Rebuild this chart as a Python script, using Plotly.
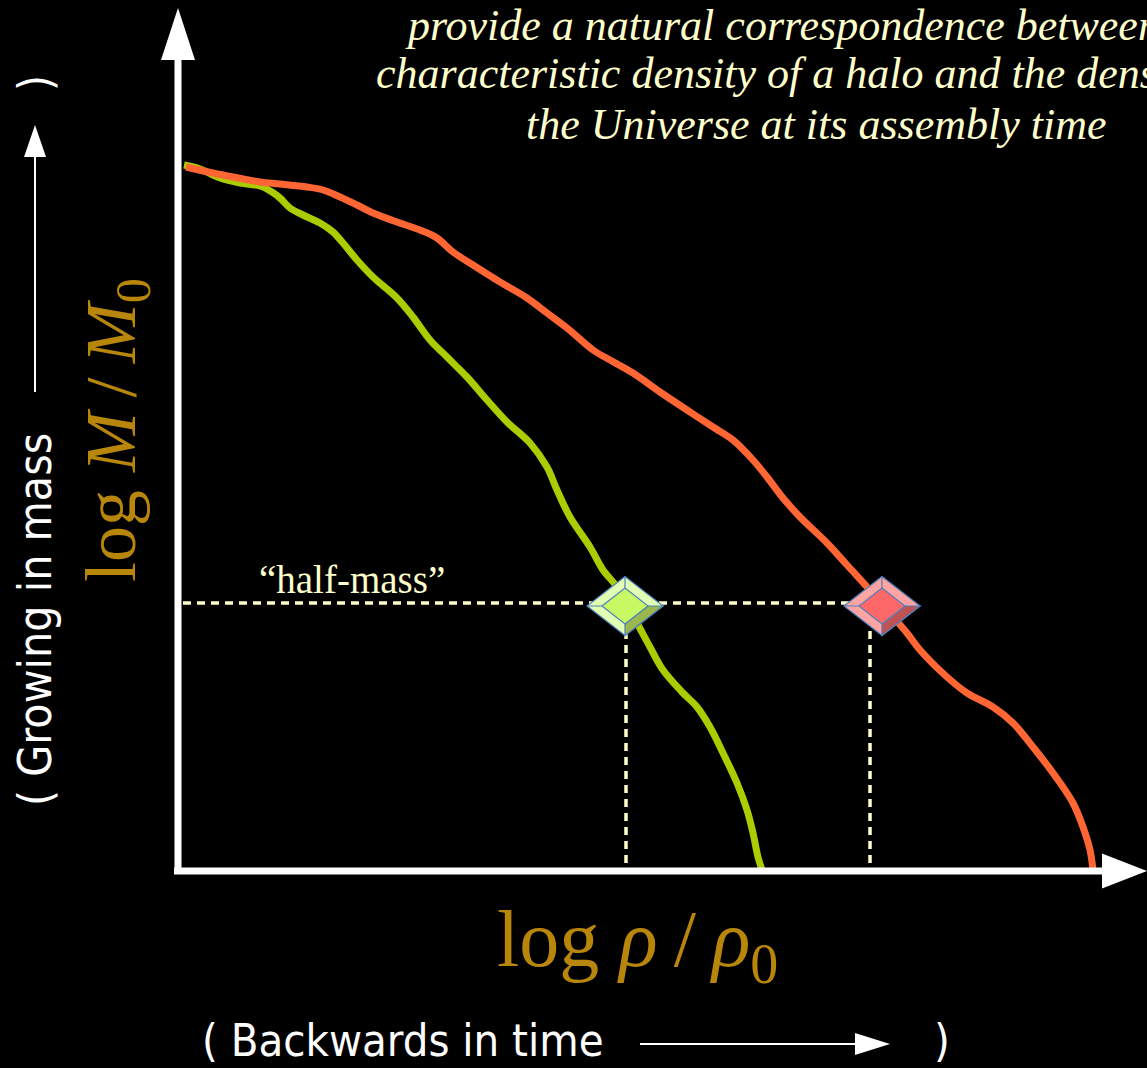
import plotly.graph_objects as go

# --- halo mass-assembly histories: log rho/rho0 (x) vs log M/M0 (y) ---
green_rho = [0.06, 0.22, 0.42, 0.62, 0.82, 0.94, 1.02, 1.12, 1.25, 1.42, 1.55, 1.65, 1.79, 1.95,
             2.19, 2.35, 2.52, 2.69, 2.89, 3.09, 3.29, 3.52, 3.69, 3.79, 3.92, 4.12, 4.25, 4.39,
             4.59, 4.72, 4.85, 5.05, 5.19, 5.32, 5.45, 5.59, 5.69, 5.75, 5.80, 5.84]
green_mass = [7.06, 7.02, 6.93, 6.88, 6.85, 6.79, 6.73, 6.63, 6.56, 6.48, 6.39, 6.28, 6.11, 5.94,
              5.73, 5.54, 5.31, 5.14, 4.94, 4.71, 4.49, 4.28, 4.04, 3.81, 3.54, 3.24, 3.01, 2.84,
              2.48, 2.24, 2.01, 1.78, 1.64, 1.44, 1.18, 0.88, 0.61, 0.38, 0.14, 0.01]

red_rho = [0.08, 0.35, 0.55, 0.82, 1.02, 1.29, 1.45, 1.62, 1.79, 1.95, 2.19, 2.42, 2.59, 2.75,
           2.95, 3.22, 3.49, 3.69, 3.89, 4.15, 4.32, 4.55, 4.82, 5.09, 5.35, 5.55, 5.75, 5.89,
           6.05, 6.22, 6.49, 6.69, 6.89, 7.09, 7.29, 7.42, 7.69, 7.89, 8.15, 8.35, 8.55, 8.75,
           8.95, 9.05, 9.12, 9.15]
red_mass = [7.04, 6.98, 6.94, 6.89, 6.87, 6.84, 6.81, 6.74, 6.66, 6.58, 6.49, 6.41, 6.33, 6.19,
            6.06, 5.89, 5.73, 5.58, 5.43, 5.21, 5.11, 4.98, 4.79, 4.61, 4.44, 4.31, 4.11, 3.94,
            3.73, 3.54, 3.28, 3.06, 2.84, 2.61, 2.38, 2.21, 1.94, 1.78, 1.64, 1.48, 1.24, 0.98,
            0.68, 0.44, 0.21, 0.01]

half_mass = 2.68
half_mass_rho = [4.48, 6.92]          # dotted drop lines
marker_rho = [4.47, 7.04]             # bevelled diamond markers
marker_mass = [2.65, 2.65]

GREEN = "#AACC00"
ORANGE = "#FF6633"
CREAM = "#FFFFCC"
GOLD = "#B8860B"

W, H = 1147, 1068


def px(xp):
    return xp / W


def py(yp):
    return 1 - yp / H


fig = go.Figure()

fig.add_trace(go.Scatter(x=green_rho, y=green_mass, mode="lines",
                         line=dict(color=GREEN, width=7, shape="spline", smoothing=1.0),
                         hoverinfo="skip", showlegend=False))
fig.add_trace(go.Scatter(x=red_rho, y=red_mass, mode="lines",
                         line=dict(color=ORANGE, width=7, shape="spline", smoothing=1.0),
                         hoverinfo="skip", showlegend=False))

shapes = []
dash = dict(color=CREAM, width=3.5, dash="8px,6px")

# half-mass guide line and drop lines to the density axis
shapes.append(dict(type="line", xref="x", yref="y", x0=0.05, x1=half_mass_rho[1],
                   y0=half_mass, y1=half_mass, line=dash, layer="above"))
for r in half_mass_rho:
    shapes.append(dict(type="line", xref="x", yref="y", x0=r, x1=r, y0=half_mass, y1=0.0,
                       line=dash, layer="above"))

# axes with arrow heads
axis_line = dict(color="white", width=7)
shapes.append(dict(type="line", xref="x", yref="y", x0=0, x1=0, y0=-0.02, y1=8.15, line=axis_line))
shapes.append(dict(type="path", xref="x", yref="y",
                   path="M -0.17,8.11 L 0.17,8.11 L 0,8.63 Z",
                   fillcolor="white", line=dict(width=0)))
shapes.append(dict(type="line", xref="x", yref="y", x0=-0.04, x1=9.28, y0=0, y1=0, line=axis_line))
shapes.append(dict(type="path", xref="x", yref="y",
                   path="M 9.24,0.175 L 9.24,-0.175 L 9.69,0 Z",
                   fillcolor="white", line=dict(width=0)))


# bevelled diamond markers (pixel-sized, anchored at data points)
def bevel(xc, yc, light, face, dark):
    ow, oh = 38, 29.5
    iw, ih_t, ih_b = 23, 18, 18
    edge = dict(color="#4F81BD", width=1.2)
    common = dict(type="path", xref="x", yref="y", xsizemode="pixel", ysizemode="pixel",
                  xanchor=xc, yanchor=yc, layer="above")
    out = []
    out.append(dict(common, path=f"M {-ow},0 L 0,{oh} L {ow},0 L 0,{-oh} Z",
                    fillcolor=light, line=edge))
    out.append(dict(common, path=f"M {ow},0 L 0,{-oh} L 0,{-ih_b} L {iw},0 Z",
                    fillcolor=dark, line=edge))
    out.append(dict(common, path=f"M {-iw},0 L 0,{ih_t} L {iw},0 L 0,{-ih_b} Z",
                    fillcolor=face, line=edge))
    out.append(dict(common, path=f"M {-ow},0 L {-iw},0 M 0,{oh} L 0,{ih_t}",
                    line=edge))
    return out


shapes += bevel(marker_rho[0], marker_mass[0], "#E2FFB4", "#C8F864", "#9BB84E")
shapes += bevel(marker_rho[1], marker_mass[1], "#FFA3A3", "#FF6868", "#BF5252")

# direction arrows next to the axis captions
thin = dict(color="white", width=2)
shapes.append(dict(type="line", xref="paper", yref="paper", x0=px(35), x1=px(35),
                   y0=py(392), y1=py(150), line=thin))
shapes.append(dict(type="path", xref="paper", yref="paper",
                   path=f"M {px(24)},{py(157)} L {px(46)},{py(157)} L {px(35)},{py(125)} Z",
                   fillcolor="white", line=dict(width=0)))
shapes.append(dict(type="line", xref="paper", yref="paper", x0=px(640), x1=px(860),
                   y0=py(1044), y1=py(1044), line=thin))
shapes.append(dict(type="path", xref="paper", yref="paper",
                   path=f"M {px(855)},{py(1033)} L {px(855)},{py(1055)} L {px(890)},{py(1044)} Z",
                   fillcolor="white", line=dict(width=0)))

sans = "Liberation Sans Narrow, Arial Narrow, DejaVu Sans Condensed, sans-serif"
serif = "Liberation Serif, Times New Roman, serif"
TS = "&#8201;"  # thin space around the fraction slash

annotations = [
    dict(text="<i>provide a natural correspondence between the</i>", x=px(403), y=py(25),
         xanchor="left", yanchor="middle", font=dict(family=serif, size=44, color=CREAM)),
    dict(text="<i>characteristic density of a halo and the density of</i>", x=px(374), y=py(73),
         xanchor="left", yanchor="middle", font=dict(family=serif, size=44, color=CREAM)),
    dict(text="<i>the Universe at its assembly time</i>", x=px(524), y=py(124),
         xanchor="left", yanchor="middle", font=dict(family=serif, size=44, color=CREAM)),
    dict(text="“half-mass”", x=px(352), y=py(579), xanchor="center", yanchor="middle",
         font=dict(family=serif, size=39, color=CREAM)),
    dict(text=f"log <i>M</i>{TS}/{TS}<i>M</i><sub>0</sub>", x=px(116), y=py(430), textangle=-90,
         xanchor="center", yanchor="middle", font=dict(family=serif, size=72, color=GOLD)),
    dict(text=f"log <i>ρ</i>{TS}/{TS}<i>ρ</i><sub>0</sub>", x=px(637), y=py(945),
         xanchor="center", yanchor="middle", font=dict(family=serif, size=80, color=GOLD)),
    dict(text="( Growing in mass", x=px(35), y=py(620), textangle=-90,
         xanchor="center", yanchor="middle", font=dict(family=sans, size=46, color="white")),
    dict(text=")", x=px(35), y=py(83), textangle=-90,
         xanchor="center", yanchor="middle", font=dict(family=sans, size=46, color="white")),
    dict(text="( Backwards in time", x=px(200), y=py(1040), xanchor="left", yanchor="middle",
         font=dict(family=sans, size=45, color="white")),
    dict(text=")", x=px(942), y=py(1040), xanchor="center", yanchor="middle",
         font=dict(family=sans, size=45, color="white")),
]
for a in annotations:
    a.update(xref="paper", yref="paper", showarrow=False)

fig.update_layout(
    width=W, height=H,
    margin=dict(l=0, r=0, t=0, b=0),
    paper_bgcolor="black", plot_bgcolor="black",
    xaxis=dict(range=[-1.78, 9.69], visible=False, fixedrange=True),
    yaxis=dict(range=[-1.97, 8.71], visible=False, fixedrange=True),
    shapes=shapes, annotations=annotations, showlegend=False,
)

fig.write_html("out.html")
